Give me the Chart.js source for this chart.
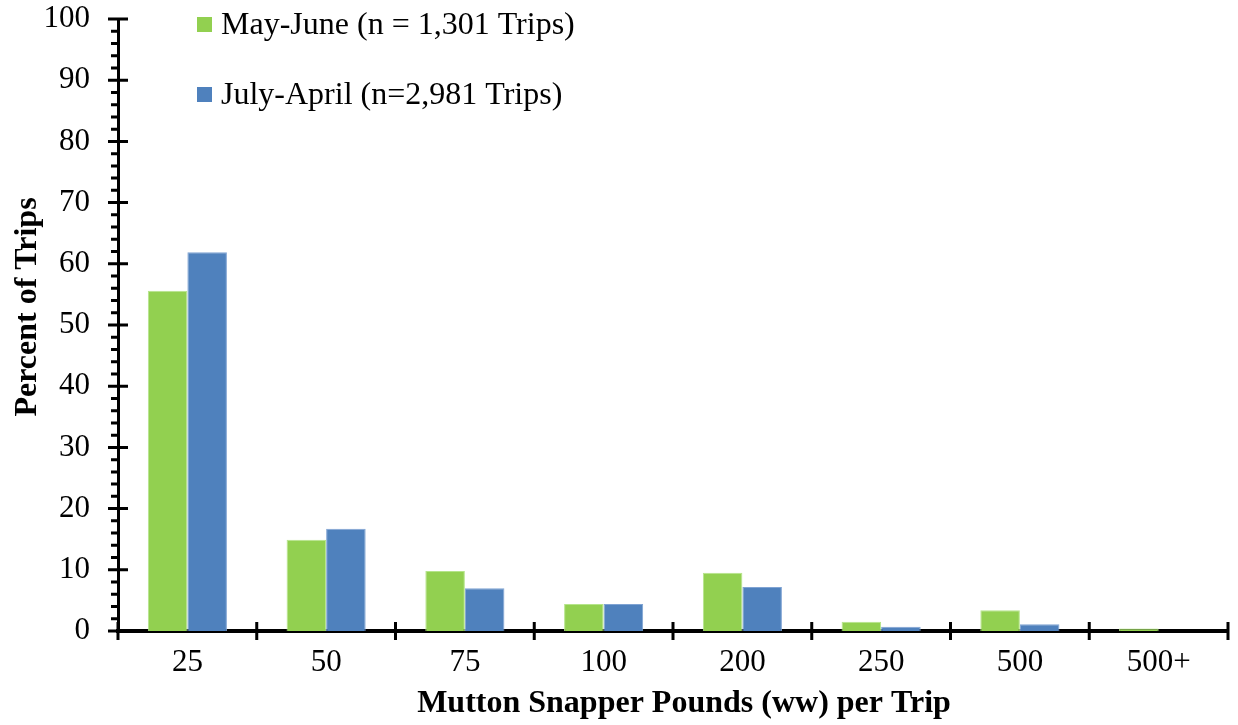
<!DOCTYPE html>
<html>
<head>
<meta charset="utf-8">
<script src="https://cdn.jsdelivr.net/npm/chart.js@4.4.1/dist/chart.umd.min.js"></script>
<style>
    html, body { margin: 0; padding: 0; background: #fff; }
    #wrap { width: 1238px; height: 725px; position: relative; }
</style>
</head>
<body>
<div id="wrap"><canvas id="chart"></canvas></div>
<script>
// Data
const categories = ['25', '50', '75', '100', '200', '250', '500', '500+'];
const mayJune = [55.6, 14.9, 9.8, 4.4, 9.5, 1.5, 3.4, 0.4];
const julyApril = [61.9, 16.7, 7.0, 4.4, 7.2, 0.7, 1.1, 0];
const seriesLabels = ['May-June (n = 1,301 Trips)', 'July-April (n=2,981 Trips)'];
const xTitle = 'Mutton Snapper Pounds (ww) per Trip';
const yTitle = 'Percent of Trips';
const yMin = 0, yMax = 100, yMajorStep = 10, yMinorStep = 2;

const serif = "'Liberation Serif', 'Times New Roman', serif";

// Tick marks: crossing majors, outside minors on y, crossing boundaries on x
const axisTicks = {
    id: 'axisTicks',
    afterDraw(chart) {
        const ctx = chart.ctx;
        const x = chart.scales.x;
        const y = chart.scales.y;
        ctx.save();
        ctx.strokeStyle = '#000';
        ctx.lineWidth = 3;
        ctx.beginPath();
        for (let v = yMin; v <= yMax; v += yMinorStep) {
            const py = y.getPixelForValue(v);
            if (v % yMajorStep === 0) {
                ctx.moveTo(y.right - 10, py);
                ctx.lineTo(y.right + 10, py);
            } else {
                ctx.moveTo(y.right - 7, py);
                ctx.lineTo(y.right, py);
            }
        }
        const n = categories.length;
        for (let i = 0; i <= n; i++) {
            const px = x.left + i * x.width / n;
            ctx.moveTo(px, x.top - 9);
            ctx.lineTo(px, x.top + 9);
        }
        ctx.stroke();
        ctx.restore();
    }
};

// Legend stacked in the top-left of the plot, plus the two axis titles
const labelsPlugin = {
    id: 'labelsPlugin',
    afterDraw(chart) {
        const ctx = chart.ctx;
        const area = chart.chartArea;
        ctx.save();
        ctx.font = '32px ' + serif;
        ctx.textBaseline = 'middle';
        ctx.textAlign = 'left';
        chart.data.datasets.forEach((ds, i) => {
            const cy = area.top + 6 + i * 70;
            ctx.fillStyle = ds.backgroundColor;
            ctx.fillRect(area.left + 79, cy - 8, 15, 15);
            ctx.fillStyle = '#000';
            ctx.fillText(ds.label, area.left + 103, cy + 1);
        });

        ctx.font = 'bold 32px ' + serif;
        ctx.textAlign = 'center';
        ctx.fillText(xTitle, 684, 704);

        ctx.translate(28, 307);
        ctx.rotate(-Math.PI / 2);
        ctx.fillText(yTitle, 0, 0);
        ctx.restore();
    }
};

new Chart(document.getElementById('chart'), {
    type: 'bar',
    data: {
        labels: categories,
        datasets: [
            {
                label: seriesLabels[0],
                data: mayJune,
                backgroundColor: '#92D050',
                borderColor: '#B5E58A',
                borderWidth: 1,
                categoryPercentage: 0.57,
                barPercentage: 1
            },
            {
                label: seriesLabels[1],
                data: julyApril,
                backgroundColor: '#4F81BD',
                borderColor: '#7FA3D3',
                borderWidth: 1,
                categoryPercentage: 0.57,
                barPercentage: 1
            }
        ]
    },
    options: {
        responsive: true,
        maintainAspectRatio: false,
        animation: false,
        layout: { padding: { top: 19, right: 10, left: 0, bottom: 0 } },
        plugins: {
            legend: { display: false },
            tooltip: { enabled: false }
        },
        scales: {
            x: {
                grid: { display: false, drawTicks: false },
                border: { display: true, color: '#000', width: 4 },
                ticks: {
                    color: '#000',
                    padding: 13,
                    font: { family: serif, size: 31 }
                },
                afterFit(scale) {
                    scale.height = 94;
                    scale.paddingLeft = 0;
                    scale.paddingRight = 0;
                }
            },
            y: {
                min: yMin,
                max: yMax,
                grid: { display: false, drawTicks: false },
                border: { display: true, color: '#000', width: 3 },
                ticks: {
                    stepSize: yMajorStep,
                    color: '#000',
                    padding: 28,
                    font: { family: serif, size: 31 }
                },
                afterFit(scale) {
                    scale.width = 118;
                    scale.paddingTop = 0;
                    scale.paddingBottom = 0;
                }
            }
        }
    },
    plugins: [axisTicks, labelsPlugin]
});
</script>
</body>
</html>
